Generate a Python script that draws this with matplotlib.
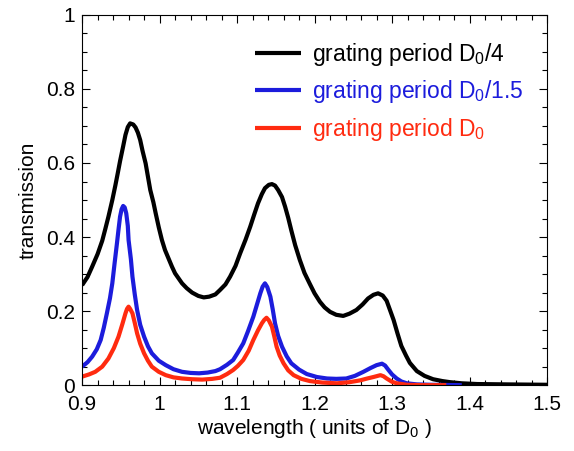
import matplotlib
matplotlib.use("Agg")
import matplotlib.pyplot as plt
from matplotlib.ticker import MultipleLocator

plt.rcParams["font.family"] = ["Liberation Sans", "DejaVu Sans"]
plt.rcParams["mathtext.fontset"] = "custom"
plt.rcParams["mathtext.rm"] = "Liberation Sans"
plt.rcParams["mathtext.it"] = "Liberation Sans"

# grating period D0/4
x_black = [0.900, 0.907, 0.913, 0.920, 0.926, 0.930, 0.934, 0.939, 0.943, 0.946,
           0.949, 0.953, 0.956, 0.959, 0.962, 0.966, 0.969, 0.972, 0.975, 0.978,
           0.982, 0.985, 0.988, 0.992, 0.995, 0.999, 1.003, 1.007, 1.012, 1.016,
           1.020, 1.025, 1.029, 1.035, 1.042, 1.050, 1.057, 1.064, 1.072, 1.078,
           1.085, 1.091, 1.098, 1.104, 1.111, 1.117, 1.122, 1.127, 1.132, 1.136,
           1.141, 1.145, 1.149, 1.153, 1.158, 1.162, 1.166, 1.170, 1.175, 1.181,
           1.187, 1.194, 1.200, 1.207, 1.213, 1.220, 1.228, 1.237, 1.245, 1.254,
           1.262, 1.269, 1.276, 1.282, 1.288, 1.293, 1.297, 1.302, 1.307, 1.312,
           1.318, 1.323, 1.332, 1.342, 1.353, 1.365, 1.375, 1.390, 1.410, 1.450,
           1.500]
y_black = [0.270, 0.292, 0.320, 0.354, 0.390, 0.422, 0.455, 0.500, 0.540, 0.572,
           0.605, 0.645, 0.676, 0.697, 0.707, 0.704, 0.696, 0.682, 0.662, 0.633,
           0.599, 0.563, 0.527, 0.494, 0.464, 0.426, 0.392, 0.365, 0.340, 0.320,
           0.302, 0.287, 0.275, 0.262, 0.250, 0.241, 0.237, 0.239, 0.245, 0.257,
           0.272, 0.293, 0.322, 0.356, 0.393, 0.428, 0.460, 0.491, 0.516, 0.532,
           0.541, 0.543, 0.539, 0.527, 0.508, 0.482, 0.452, 0.418, 0.378, 0.338,
           0.303, 0.273, 0.248, 0.225, 0.210, 0.198, 0.190, 0.187, 0.193, 0.203,
           0.218, 0.234, 0.244, 0.248, 0.242, 0.228, 0.205, 0.176, 0.140, 0.106,
           0.080, 0.060, 0.038, 0.025, 0.016, 0.011, 0.008, 0.005, 0.003, 0.002,
           0.001]

# grating period D0/1.5
x_blue = [0.900, 0.907, 0.913, 0.919, 0.924, 0.928, 0.932, 0.936, 0.939, 0.942,
          0.945, 0.947, 0.949, 0.951, 0.953, 0.955, 0.957, 0.959, 0.960, 0.963,
          0.965, 0.968, 0.971, 0.975, 0.980, 0.985, 0.990, 0.999, 1.008, 1.018,
          1.029, 1.040, 1.051, 1.062, 1.072, 1.078, 1.087, 1.095, 1.101, 1.108,
          1.114, 1.121, 1.126, 1.130, 1.133, 1.136, 1.139, 1.143, 1.146, 1.149,
          1.153, 1.158, 1.164, 1.170, 1.180, 1.190, 1.203, 1.216, 1.228, 1.241,
          1.252, 1.263, 1.272, 1.280, 1.287, 1.291, 1.295, 1.300, 1.306, 1.312,
          1.319, 1.332, 1.350, 1.390]
y_blue = [0.050, 0.062, 0.077, 0.097, 0.122, 0.155, 0.194, 0.235, 0.275, 0.330,
          0.383, 0.420, 0.455, 0.475, 0.484, 0.480, 0.464, 0.430, 0.392, 0.340,
          0.293, 0.245, 0.203, 0.163, 0.131, 0.105, 0.086, 0.066, 0.054, 0.043,
          0.036, 0.033, 0.032, 0.034, 0.038, 0.043, 0.055, 0.068, 0.088, 0.113,
          0.145, 0.185, 0.220, 0.248, 0.266, 0.275, 0.265, 0.239, 0.205, 0.167,
          0.133, 0.104, 0.078, 0.059, 0.042, 0.030, 0.022, 0.018, 0.017, 0.018,
          0.025, 0.036, 0.046, 0.054, 0.058, 0.053, 0.042, 0.029, 0.018, 0.010,
          0.005, 0.002, 0.001, 0.000]

# grating period D0
x_red = [0.900, 0.909, 0.917, 0.926, 0.934, 0.941, 0.947, 0.952, 0.956, 0.958,
         0.960, 0.962, 0.965, 0.968, 0.971, 0.975, 0.980, 0.985, 0.990, 0.999,
         1.008, 1.018, 1.029, 1.042, 1.055, 1.068, 1.078, 1.087, 1.095, 1.101,
         1.108, 1.115, 1.121, 1.127, 1.132, 1.135, 1.138, 1.141, 1.145, 1.148,
         1.151, 1.155, 1.160, 1.166, 1.173, 1.183, 1.194, 1.210, 1.229, 1.245,
         1.259, 1.268, 1.276, 1.285, 1.289, 1.293, 1.300, 1.306, 1.319, 1.340,
         1.370]
y_red = [0.023, 0.029, 0.036, 0.050, 0.072, 0.100, 0.131, 0.165, 0.194, 0.206,
         0.212, 0.206, 0.194, 0.168, 0.140, 0.112, 0.086, 0.066, 0.050, 0.036,
         0.027, 0.021, 0.018, 0.016, 0.015, 0.017, 0.020, 0.030, 0.041, 0.052,
         0.068, 0.093, 0.122, 0.148, 0.167, 0.176, 0.182, 0.175, 0.158, 0.132,
         0.104, 0.080, 0.059, 0.040, 0.027, 0.017, 0.011, 0.007, 0.005, 0.008,
         0.013, 0.018, 0.022, 0.027, 0.024, 0.018, 0.009, 0.005, 0.001, 0.000,
         0.000]

labels = ["grating period D$_0$/4", "grating period D$_0$/1.5", "grating period D$_0$"]
colors = ["black", "#1c1cdc", "#ff2b10"]

x_ticks = [0.9, 1.0, 1.1, 1.2, 1.3, 1.4, 1.5]
x_tick_labels = ["0.9", "1", "1.1", "1.2", "1.3", "1.4", "1.5"]
y_ticks = [0, 0.2, 0.4, 0.6, 0.8, 1.0]
y_tick_labels = ["0", "0.2", "0.4", "0.6", "0.8", "1"]

fig = plt.figure(figsize=(5.74, 4.51), dpi=100)
ax = fig.add_axes([0.143, 0.146, 0.81, 0.821])

series = [(x_black, y_black), (x_blue, y_blue), (x_red, y_red)]
for (xs, ys), lab, col in zip(series, labels, colors):
    ax.plot(xs, ys, color=col, lw=3, label=lab, solid_joinstyle="round",
            solid_capstyle="butt")

ax.set_xlim(0.9, 1.5)
ax.set_ylim(0, 1)
ax.set_xticks(x_ticks)
ax.set_xticklabels(x_tick_labels)
ax.set_yticks(y_ticks)
ax.set_yticklabels(y_tick_labels)
ax.xaxis.set_minor_locator(MultipleLocator(0.02))
ax.yaxis.set_minor_locator(MultipleLocator(0.05))
ax.tick_params(which="both", direction="in", top=True, right=True, width=0.8,
               labelsize=15)
ax.tick_params(which="major", length=6)
ax.tick_params(axis="x", which="major", pad=7)
ax.tick_params(axis="y", which="major", pad=5)
ax.tick_params(which="minor", length=3.5)
for sp in ax.spines.values():
    sp.set_linewidth(0.8)

ax.set_xlabel("wavelength ( units of D$_0$ )", fontsize=15, labelpad=2)
ax.set_ylabel("transmission", fontsize=15, labelpad=6)

leg = ax.legend(loc="upper left", bbox_to_anchor=(0.372, 0.929), frameon=False,
                fontsize=16.5, handlelength=2.0, handletextpad=0.5,
                labelspacing=0.45, borderpad=0, borderaxespad=0)
for txt, col in zip(leg.get_texts(), colors):
    txt.set_color(col)

fig.savefig("out.png", dpi=100)
